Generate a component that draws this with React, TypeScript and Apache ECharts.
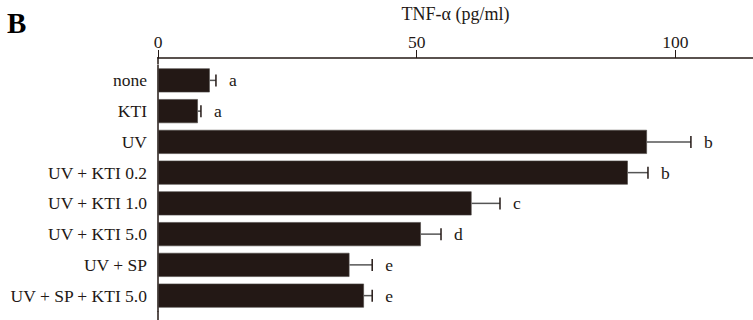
import React, { useEffect, useRef } from "react";
import * as echarts from "echarts";

const categories = [
  "none",
  "KTI",
  "UV",
  "UV + KTI 0.2",
  "UV + KTI 1.0",
  "UV + KTI 5.0",
  "UV + SP",
  "UV + SP + KTI 5.0",
];
const means = [10.0, 7.7, 94.5, 90.8, 60.6, 50.8, 37.0, 39.8];
const errors = [1.2, 0.6, 8.5, 3.9, 5.5, 3.9, 4.4, 1.6];
const letters = ["a", "a", "b", "b", "c", "d", "e", "e"];
const axisMin = 0;
const axisMax = 115;
const axisInterval = 50;

const FONT = "'Liberation Serif', 'Times New Roman', serif";
const INK = "#231815";

export default function App() {
  const ref = useRef<HTMLDivElement>(null);
  useEffect(() => {
    if (!ref.current) return;
    const chart = echarts.init(ref.current, undefined, { renderer: "svg" });
    const errData = means.map((m, i) => [i, m, errors[i]]);
    chart.setOption({
      animation: false,
      grid: { left: 158, right: 0, top: 64, height: 247, containLabel: false },
      graphic: [
        {
          type: "text",
          left: 7,
          top: 8,
          style: { text: "B", font: `bold 29px ${FONT}`, fill: "#000" },
        },
        {
          type: "line",
          shape: { x1: 158, y1: 57, x2: 158, y2: 64 },
          style: { stroke: INK, lineWidth: 1.5 },
        },
        {
          type: "line",
          shape: { x1: 158, y1: 311, x2: 158, y2: 320 },
          style: { stroke: INK, lineWidth: 1.5 },
        },
      ],
      xAxis: {
        type: "value",
        position: "top",
        offset: 7,
        min: axisMin,
        max: axisMax,
        interval: axisInterval,
        name: "TNF-α (pg/ml)",
        nameLocation: "middle",
        nameGap: 35,
        nameTextStyle: { fontFamily: FONT, fontSize: 18, color: INK },
        axisLine: { show: true, lineStyle: { color: INK, width: 1.5 } },
        axisTick: { show: true, length: 8, lineStyle: { color: INK, width: 1 } },
        axisLabel: {
          margin: 7,
          fontFamily: FONT,
          fontSize: 17.5,
          color: INK,
          showMaxLabel: false,
        },
        splitLine: { show: false },
      },
      yAxis: {
        type: "category",
        inverse: true,
        data: categories,
        axisLine: { show: true, lineStyle: { color: INK, width: 1.5 } },
        axisTick: { show: false },
        axisLabel: { margin: 11, fontFamily: FONT, fontSize: 17.5, color: INK },
      },
      series: [
        {
          type: "bar",
          data: means,
          barWidth: 24,
          itemStyle: { color: INK, borderColor: "#4a4442", borderWidth: 0.6 },
        },
        {
          type: "custom",
          data: errData,
          encode: { x: 1, y: 0 },
          clip: false,
          z: 3,
          renderItem: (params: any, api: any) => {
            const idx = api.value(0);
            const mean = api.value(1);
            const err = api.value(2);
            const s = api.coord([mean, idx]);
            const e = api.coord([mean + err, idx]);
            const h = 12;
            return {
              type: "group",
              children: [
                {
                  type: "line",
                  shape: { x1: s[0], y1: s[1], x2: e[0], y2: e[1] },
                  style: { stroke: "#555", lineWidth: 1.5 },
                },
                {
                  type: "line",
                  shape: { x1: e[0], y1: e[1] - h / 2, x2: e[0], y2: e[1] + h / 2 },
                  style: { stroke: INK, lineWidth: 1.5 },
                },
                {
                  type: "text",
                  x: e[0] + 13,
                  y: e[1],
                  style: {
                    text: letters[idx],
                    fontFamily: FONT,
                    fontSize: 17.5,
                    fill: INK,
                    align: "left",
                    verticalAlign: "middle",
                  },
                },
              ],
            };
          },
        },
      ],
    });
    return () => chart.dispose();
  }, []);
  return (
    <div
      ref={ref}
      style={{ position: "absolute", left: 0, top: 0, width: 753, height: 320, background: "#fff" }}
    />
  );
}
